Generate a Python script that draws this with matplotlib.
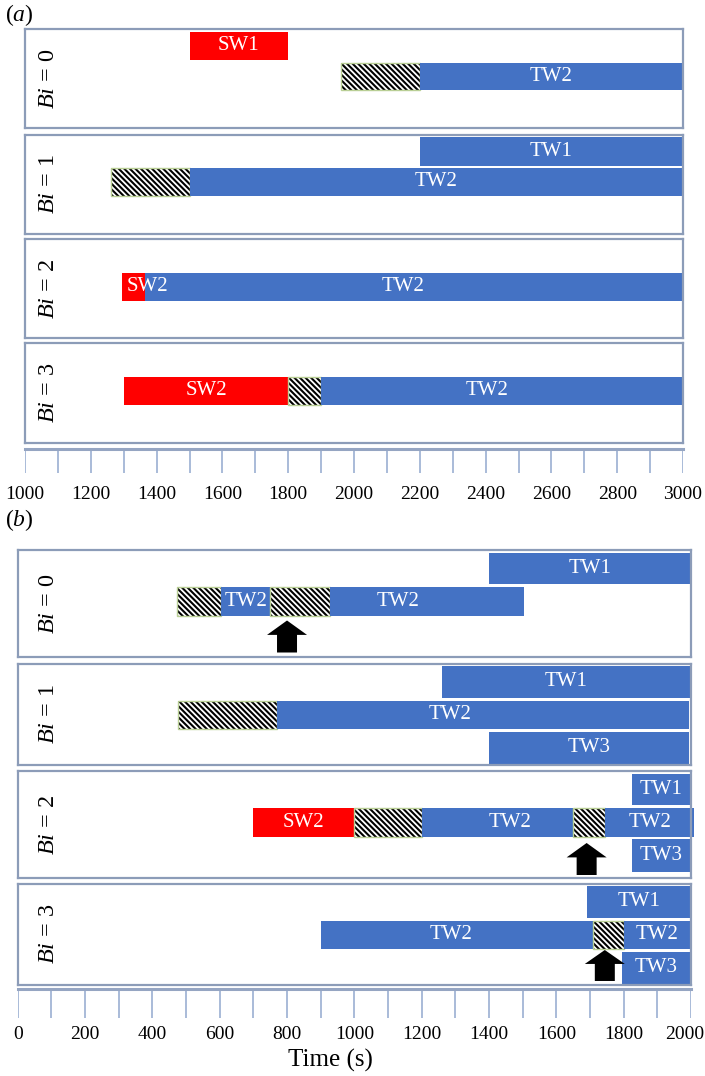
import matplotlib
matplotlib.use("Agg")
import matplotlib.pyplot as plt
from matplotlib.transforms import ScaledTranslation

plt.rcParams['font.family'] = ['Liberation Serif', 'DejaVu Serif']
plt.rcParams['mathtext.fontset'] = 'custom'
plt.rcParams['mathtext.rm'] = 'Liberation Serif'
plt.rcParams['mathtext.it'] = 'Liberation Serif:italic'
plt.rcParams['hatch.linewidth'] = 1.5

# ---- data -------------------------------------------------------------
BI_VALUES = [0, 1, 2, 3]

# panel (a): (Bi, row, start, end, kind, label, label position or None)
A_BARS = [
    (0, 0, 1500, 1800, 'SW', 'SW1', None),
    (0, 1, 1960, 2200, 'mix', '', None),
    (0, 1, 2200, 3000, 'TW', 'TW2', None),
    (1, 0, 2200, 3000, 'TW', 'TW1', None),
    (1, 1, 1260, 1500, 'mix', '', None),
    (1, 1, 1500, 3000, 'TW', 'TW2', None),
    (2, 1, 1365, 3000, 'TW', 'TW2', 2148),
    (2, 1, 1295, 1365, 'SW', 'SW2', 1372),
    (3, 1, 1300, 1800, 'SW', 'SW2', None),
    (3, 1, 1800, 1900, 'mix', '', None),
    (3, 1, 1900, 3000, 'TW', 'TW2', 2404),
]
A_XLIM = (1000, 3000)
A_TICKS = list(range(1000, 3001, 200))
A_MINOR = list(range(1000, 3001, 100))

# panel (b)
B_BARS = [
    (0, 0, 1400, 2000, 'TW', 'TW1', None),
    (0, 1, 473, 604, 'mix', '', None),
    (0, 1, 604, 750, 'TW', 'TW2', None),
    (0, 1, 750, 928, 'mix', '', None),
    (0, 1, 928, 1505, 'TW', 'TW2', 1130),
    (1, 0, 1260, 2000, 'TW', 'TW1', None),
    (1, 1, 475, 770, 'mix', '', None),
    (1, 1, 770, 1995, 'TW', 'TW2', 1283),
    (1, 2, 1400, 1995, 'TW', 'TW3', None),
    (2, 0, 1825, 2000, 'TW', 'TW1', None),
    (2, 1, 700, 1000, 'SW', 'SW2', None),
    (2, 1, 1000, 1200, 'mix', '', None),
    (2, 1, 1200, 1650, 'TW', 'TW2', 1464),
    (2, 1, 1650, 1745, 'mix', '', None),
    (2, 1, 1745, 2010, 'TW', 'TW2', None),
    (2, 2, 1825, 2000, 'TW', 'TW3', None),
    (3, 0, 1690, 2000, 'TW', 'TW1', None),
    (3, 1, 900, 1710, 'TW', 'TW2', 1286),
    (3, 1, 1710, 1800, 'mix', '', None),
    (3, 1, 1800, 2000, 'TW', 'TW2', None),
    (3, 2, 1795, 2000, 'TW', 'TW3', None),
]
# arrows marking events: (Bi, time)
B_ARROWS = [(0, 800), (2, 1690), (3, 1744)]
B_XLIM = (0, 2000)
B_TICKS = list(range(0, 2001, 200))
B_MINOR = list(range(0, 2001, 100))

# ---- style / layout (pixels) -----------------------------------------
W, H = 705, 1076
COLORS = {'SW': '#FF0000', 'TW': '#4472C4'}
BOX_EDGE = '#8c9cb8'
TICK_LINE = '#a3b5d6'
MIX_EDGE = '#b9cf95'

A_LEFT, A_RIGHT = 25, 683
A_BOXES = [(29, 128), (134.5, 234), (239, 338), (343, 443)]
A_STRIP = (448.5, 473)
A_ROWS = [(2.5, 31), (33.5, 61.5), (64, 94)]

B_LEFT, B_RIGHT = 17.7, 691
B_BOXES = [(550, 657), (663.5, 765), (771, 878), (883.5, 985)]
B_STRIP = (988.5, 1018)
B_ROWS = [(2.5, 34), (37, 65.5), (68, 100.5)]
B_ARROW_SPAN = {0: (70.5, 102.5), 2: (72, 104), 3: (66.5, 97.5)}

fig = plt.figure(figsize=(W / 100, H / 100), dpi=100)


def px_axes(left, top, right, bottom):
    return fig.add_axes([left / W, 1 - bottom / H, (right - left) / W, (bottom - top) / H])


def draw_panel(bars, boxes, rows, left, right, xlim, strip, ticks, minor, pad,
               last_shift):
    axes = []
    for top, bottom in boxes:
        ax = px_axes(left, top, right, bottom)
        ax.set_xlim(*xlim)
        ax.set_ylim(bottom - top, 0)
        ax.set_xticks([])
        ax.set_yticks([])
        for s in ax.spines.values():
            s.set_color(BOX_EDGE)
            s.set_linewidth(1.6)
        axes.append(ax)

    for bi, row, t0, t1, kind, label, lx in bars:
        ax = axes[bi]
        y0, y1 = rows[row]
        yc, hh = (y0 + y1) / 2, y1 - y0
        if kind == 'mix':
            ax.barh(yc, t1 - t0, left=t0, height=hh, color='white',
                    edgecolor='black', hatch='\\' * 6, linewidth=0, clip_on=False)
            ax.barh(yc, t1 - t0, left=t0, height=hh, fill=False,
                    edgecolor=MIX_EDGE, linewidth=1.0, clip_on=False)
        else:
            ax.barh(yc, t1 - t0, left=t0, height=hh, color=COLORS[kind],
                    linewidth=0, clip_on=False)
        if label:
            x = (t0 + t1) / 2 if lx is None else lx
            ax.text(x, yc, label, color='white', fontsize=15,
                    ha='center', va='center', zorder=5)

    for ax, (top, bottom), bi in zip(axes, boxes, BI_VALUES):
        fig.text(48 / W, 1 - (top + bottom) / 2 / H, r'$Bi$ = %d' % bi,
                 rotation=90, ha='center', va='center', fontsize=17.5)

    sax = px_axes(left, strip[0], right, strip[1])
    sax.set_xlim(*xlim)
    sax.set_ylim(0, 1)
    sax.vlines(minor, 0, 1, color=TICK_LINE, linewidth=1.3)
    sax.set_yticks([])
    sax.set_xticks(ticks)
    sax.set_xticklabels([str(t) for t in ticks], fontsize=14)
    sax.tick_params(axis='x', length=0, pad=pad)
    if last_shift:
        lab = sax.get_xticklabels()[-1]
        lab.set_transform(lab.get_transform() +
                          ScaledTranslation(-last_shift / 100, 0, fig.dpi_scale_trans))
    for name, s in sax.spines.items():
        if name == 'top':
            s.set_color('#95a5c2')
            s.set_linewidth(2.2)
        else:
            s.set_visible(False)
    return axes, sax


a_axes, a_strip = draw_panel(A_BARS, A_BOXES, A_ROWS, A_LEFT, A_RIGHT, A_XLIM,
                             A_STRIP, A_TICKS, A_MINOR, 9, 0)
b_axes, b_strip = draw_panel(B_BARS, B_BOXES, B_ROWS, B_LEFT, B_RIGHT, B_XLIM,
                             B_STRIP, B_TICKS, B_MINOR, 6, 6)

# block arrows in panel (b)
units_per_px = (B_XLIM[1] - B_XLIM[0]) / (B_RIGHT - B_LEFT)
for bi, t in B_ARROWS:
    ax = b_axes[bi]
    y_tip, y_base = B_ARROW_SPAN[bi]
    length = y_base - y_tip
    ax.arrow(t, y_base, 0, -length, width=20 * units_per_px,
             head_width=40 * units_per_px, head_length=length * 0.45,
             length_includes_head=True, color='black', linewidth=0, zorder=6)

fig.text(19 / W, 1 - 15 / H, '($a$)', ha='center', va='center', fontsize=17)
fig.text(19 / W, 1 - 520 / H, '($b$)', ha='center', va='center', fontsize=17)
fig.text(330 / W, 1 - 1060 / H, 'Time (s)', ha='center', va='center', fontsize=18)

fig.savefig('out.png', dpi=100, facecolor='white')
